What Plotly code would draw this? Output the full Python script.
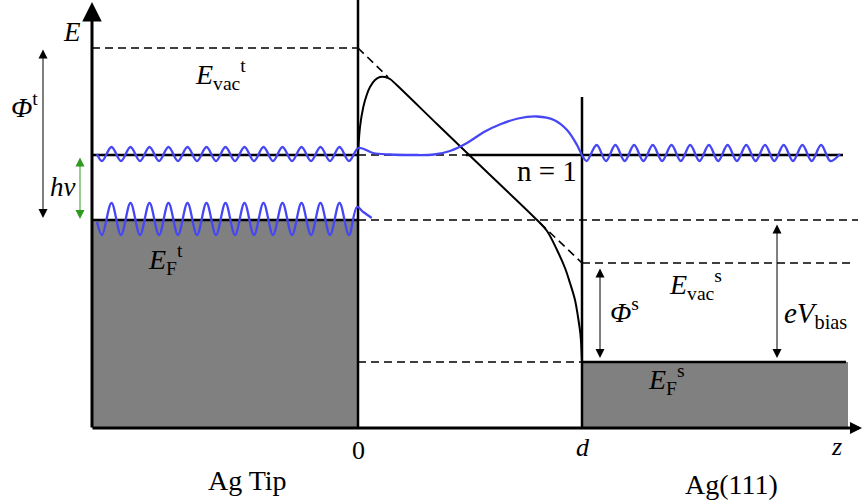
import plotly.graph_objects as go

# ---------------- data (schematic units: z in Å-like units, E in arb. units) ----------------
# energy levels
E_AXIS = 0.0
E_F_TIP = 20.8
E_VAC_TIP = 38.0
E_N1 = 27.3
E_VAC_S = 16.5
E_F_S = 6.6
E_TOP = 42.6            # tip of the E axis arrow
E_SAMPLE_WALL_TOP = 33.1
E_TIP_WALL_TOP = 42.8

# z positions
Z_LEFT = -26.6          # E axis position
Z_TIP = 0.0
D = 22.4                # tip–sample distance d
Z_RIGHT = 49.0
Z_AXIS_END = 50.4
N1_SOLID_START = 10.8
N1_SOLID_END = 48.5
EF_TIP_DASH_END = 50.0
EVAC_S_DASH_END = 49.3
EF_S_LINE_END = 48.8

X_RANGE = [-35.8, 50.4]
Y_RANGE = [-7.4, 42.8]

# tangent (image-free) vacuum level, dashed pieces
diag_top_z = [0.0, 3.0]
diag_top_E = [38.0, 35.1]
diag_bot_z = [18.2, 22.4]
diag_bot_E = [20.5, 16.5]

# barrier potential including image potential (solid curve)
pot_z = [0.03, 0.2, 0.53, 0.87, 1.2, 1.7, 2.2, 2.7, 3.2, 3.87, 8.0, 13.0, 17.9,
         18.9, 19.9, 20.7, 21.2, 21.7, 22.0, 22.25, 22.4]
pot_E = [27.8, 30.1, 32.1, 33.3, 34.1, 34.8, 35.1, 35.1, 34.9, 34.3, 30.3, 25.5, 20.8,
         19.7, 17.8, 16.0, 14.5, 12.8, 11.1, 9.3, 6.6]

# n = 1 field-emission resonance wave function (tip part, gap part, sample part)
wave_up_z = [-26.1, -25.6, -24.65, -23.7, -22.75, -21.8, -20.85, -19.9, -18.95, -18.0,
             -17.05, -16.1, -15.15, -14.2, -13.25, -12.3, -11.35, -10.4, -9.45, -8.5,
             -7.55, -6.6, -5.65, -4.7, -3.75, -2.8, -1.85, -0.9, 0.05,
             1.5, 3.2, 5.5, 7.6, 9.2, 10.9, 12.6, 14.3, 16.0, 17.9, 19.6, 20.9, 21.9, 22.5,
             22.87, 23.87, 24.8, 25.74, 26.67, 27.61, 28.54, 29.48, 30.41, 31.35, 32.28,
             33.22, 34.15, 35.09, 36.02, 36.96, 37.89, 38.83, 39.76, 40.70, 41.63, 42.57,
             43.5, 44.44, 45.37, 46.31, 47.24, 48.2]
wave_up_E = [27.4, 26.7, 28.1, 26.7, 28.1, 26.7, 28.1, 26.7, 28.1, 26.7,
             28.1, 26.7, 28.1, 26.7, 28.1, 26.7, 28.1, 26.7, 28.1, 26.7,
             28.1, 26.7, 28.1, 26.7, 28.1, 26.7, 28.1, 26.7, 28.0,
             27.5, 27.35, 27.3, 27.35, 27.7, 28.5, 29.6, 30.4, 30.95, 31.15, 30.8, 29.8, 28.3, 27.1,
             26.7, 28.3, 26.7, 28.3, 26.7, 28.3, 26.7, 28.3, 26.7, 28.3, 26.7,
             28.3, 26.7, 28.3, 26.7, 28.3, 26.7, 28.3, 26.7, 28.3, 26.7, 28.3,
             26.7, 28.3, 26.7, 28.3, 26.7, 27.4]

# tip Fermi-level wave function
wave_lo_z = [-26.1, -25.6, -24.65, -23.7, -22.75, -21.8, -20.85, -19.9, -18.95, -18.0,
             -17.05, -16.1, -15.15, -14.2, -13.25, -12.3, -11.35, -10.4, -9.45, -8.5,
             -7.55, -6.6, -5.65, -4.7, -3.75, -2.8, -1.85, -0.9, -0.1, 0.53, 1.37]
wave_lo_E = [20.6, 19.3, 22.5, 19.3, 22.5, 19.3, 22.5, 19.3, 22.5, 19.3,
             22.5, 19.3, 22.5, 19.3, 22.5, 19.3, 22.5, 19.3, 22.5, 19.3,
             22.5, 19.3, 22.5, 19.3, 22.5, 19.3, 22.5, 19.3, 22.1, 21.6, 21.0]

# double arrows: (z, E_start, E_end, color)
arrow_z = [-31.5, -27.8, 24.2, 41.9]
arrow_E0 = [38.0, 27.2, 16.1, 20.5]
arrow_E1 = [21.0, 20.9, 7.0, 7.0]
arrow_col = ["black", "#2e9a1e", "black", "black"]

# labels
label_text = ["<i>E</i>", "<i>Φ</i><sup>t</sup>", "<i>hν</i>",
              "<i>E</i><sub>vac</sub><sup>t</sup>", "<i>E</i><sub>F</sub><sup>t</sup>",
              "n = 1", "<i>E</i><sub>vac</sub><sup>s</sup>", "<i>Φ</i><sup>s</sup>",
              "<i>eV</i><sub>bias</sub>", "<i>E</i><sub>F</sub><sup>s</sup>",
              "0", "<i>d</i>", "<i>z</i>", "Ag Tip", "Ag(111)"]
label_z = [-28.6, -33.4, -29.5, -13.8, -19.3, 18.9, 33.7, 26.6, 45.7, 30.8,
           0.0, 22.5, 47.8, -11.1, 37.3]
label_E = [39.6, 32.3, 24.1, 35.4, 16.9, 25.7, 14.4, 11.8, 11.3, 4.9,
           -2.2, -1.9, -1.8, -5.2, -5.6]
label_size = [27, 28, 27, 28, 28, 29, 28, 28, 29, 28, 26, 26, 26, 28, 28]

# ---------------- figure ----------------
GRAY = "#808080"
BLUE = "#4646f5"
FONT = "Liberation Serif"

fig = go.Figure()

def line(z, e, width=2.5, dash=None, color="black", shape="linear"):
    fig.add_trace(go.Scatter(x=z, y=e, mode="lines", hoverinfo="skip",
                             line=dict(color=color, width=width, dash=dash, shape=shape)))

# filled metals
fig.add_trace(go.Scatter(x=[Z_LEFT, Z_TIP, Z_TIP, Z_LEFT], y=[E_AXIS, E_AXIS, E_F_TIP, E_F_TIP],
                         fill="toself", fillcolor=GRAY, mode="lines", line=dict(width=0),
                         hoverinfo="skip"))
fig.add_trace(go.Scatter(x=[D, Z_RIGHT, Z_RIGHT, D], y=[E_AXIS, E_AXIS, E_F_S, E_F_S],
                         fill="toself", fillcolor=GRAY, mode="lines", line=dict(width=0),
                         hoverinfo="skip"))

DASH = "8px,5px"
# dashed levels
line([Z_LEFT, Z_TIP], [E_VAC_TIP, E_VAC_TIP], 1.6, DASH)
line([Z_TIP, N1_SOLID_START], [E_N1, E_N1], 1.6, DASH)
line([Z_TIP, EF_TIP_DASH_END], [E_F_TIP, E_F_TIP], 1.6, DASH)
line([D, EVAC_S_DASH_END], [E_VAC_S, E_VAC_S], 1.6, DASH)
line([Z_TIP, D], [E_F_S, E_F_S], 1.6, DASH)
line(diag_top_z, diag_top_E, 1.6, DASH)
line(diag_bot_z, diag_bot_E, 1.6, DASH)

# solid levels
line([Z_LEFT, Z_TIP], [E_N1, E_N1], 2.5)
line([N1_SOLID_START, N1_SOLID_END], [E_N1, E_N1], 2.5)
line([Z_LEFT, Z_TIP], [E_F_TIP, E_F_TIP], 2.5)
line([D, EF_S_LINE_END], [E_F_S, E_F_S], 2.5)
line([Z_TIP, Z_TIP], [E_AXIS, E_TIP_WALL_TOP], 2.5)
line([D, D], [E_AXIS, E_SAMPLE_WALL_TOP], 2.5)

# barrier
line(pot_z, pot_E, 2.0, None, "black", "spline")

# wave functions
line(wave_up_z, wave_up_E, 2.3, None, BLUE, "spline")
line(wave_lo_z, wave_lo_E, 2.3, None, BLUE, "spline")

annotations = []
# axes with arrows
annotations.append(dict(x=Z_LEFT, y=E_TOP, ax=Z_LEFT, ay=E_AXIS - 0.1, xref="x", yref="y",
                        axref="x", ayref="y", text="", showarrow=True, arrowhead=2,
                        arrowsize=1.3, arrowwidth=3, arrowcolor="black"))
annotations.append(dict(x=Z_AXIS_END, y=E_AXIS, ax=Z_LEFT - 0.1, ay=E_AXIS, xref="x", yref="y",
                        axref="x", ayref="y", text="", showarrow=True, arrowhead=2,
                        arrowsize=0.8, arrowwidth=3, arrowcolor="black"))
# double arrows
for z, e0, e1, c in zip(arrow_z, arrow_E0, arrow_E1, arrow_col):
    annotations.append(dict(x=z, y=e1, ax=z, ay=e0, xref="x", yref="y", axref="x", ayref="y",
                            text="", showarrow=True, arrowhead=2, startarrowhead=2,
                            arrowside="end+start", arrowsize=1.8, startarrowsize=1.8,
                            arrowwidth=1, arrowcolor=c))
# labels
for t, z, e, s in zip(label_text, label_z, label_E, label_size):
    annotations.append(dict(x=z, y=e, xref="x", yref="y", text=t, showarrow=False,
                            xanchor="center", yanchor="middle",
                            font=dict(family=FONT, size=s, color="black")))

fig.update_layout(
    width=862, height=502, margin=dict(l=0, r=0, t=0, b=0),
    paper_bgcolor="white", plot_bgcolor="white", showlegend=False,
    xaxis=dict(range=X_RANGE, visible=False, fixedrange=True),
    yaxis=dict(range=Y_RANGE, visible=False, fixedrange=True),
    annotations=annotations,
)

fig.write_html("out.html")
